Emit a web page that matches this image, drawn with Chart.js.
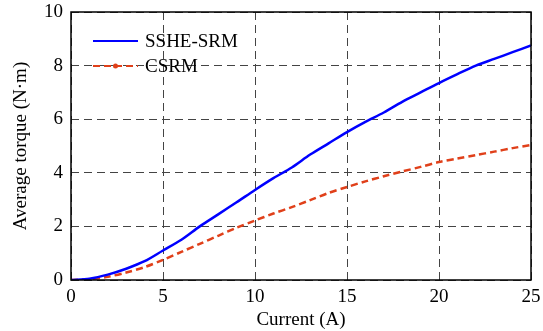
<!DOCTYPE html>
<html>
<head>
<meta charset="utf-8">
<script src="https://cdn.jsdelivr.net/npm/chart.js@4"></script>
<style>
  html, body { margin: 0; padding: 0; background: #fff; }
  #wrap { width: 543px; height: 331px; }
</style>
</head>
<body>
<div id="wrap"><canvas id="torqueChart" width="543" height="331"></canvas></div>
<script>
// Dados
const current = [0, 1, 2, 3, 4, 5, 6, 7, 8, 9, 10, 11, 12, 13, 14, 15, 16, 17, 18, 19, 20, 21, 22, 23, 24, 25];
const sshe = [0, 0.05, 0.2, 0.42, 0.7, 1.1, 1.5, 2.0, 2.45, 2.9, 3.36, 3.8, 4.2, 4.68, 5.1, 5.52, 5.9, 6.25, 6.65, 7.0, 7.35, 7.68, 8.0, 8.25, 8.5, 8.75];
const csrm = [0, 0.03, 0.12, 0.28, 0.48, 0.75, 1.05, 1.35, 1.65, 1.95, 2.22, 2.48, 2.72, 2.98, 3.25, 3.47, 3.68, 3.87, 4.05, 4.22, 4.4, 4.53, 4.66, 4.79, 4.92, 5.04];
const xTicks = [0, 5, 10, 15, 20, 25];
const yTicks = [0, 2, 4, 6, 8, 10];

const FONT = "'Liberation Serif', 'Times New Roman', serif";

// Caixa em volta da área do gráfico + legenda interna
const frameAndLegend = {
    id: 'frameAndLegend',
    afterDraw(chart) {
        const { ctx, chartArea: a } = chart;
        ctx.save();
        ctx.strokeStyle = '#000';
        ctx.lineWidth = 1.5;
        ctx.setLineDash([]);
        ctx.strokeRect(a.left, a.top, a.right - a.left, a.bottom - a.top);

        // legenda
        ctx.font = '19px ' + FONT;
        ctx.textBaseline = 'middle';
        ctx.fillStyle = '#000';
        const items = chart.data.datasets;
        const x0 = a.left + 22, x1 = a.left + 67;
        items.forEach((ds, i) => {
            const y = a.top + 29 + i * 25;
            ctx.strokeStyle = ds.borderColor;
            ctx.lineWidth = 2;
            ctx.setLineDash(ds.borderDash || []);
            ctx.beginPath();
            ctx.moveTo(x0, y);
            ctx.lineTo(x1, y);
            ctx.stroke();
            if (ds.borderDash) {
                ctx.fillStyle = ds.borderColor;
                ctx.beginPath();
                ctx.arc((x0 + x1) / 2, y, 2.5, 0, Math.PI * 2);
                ctx.fill();
            }
            ctx.fillStyle = '#000';
            ctx.fillText(ds.label, x1 + 7, y + 1);
        });
        ctx.restore();
    }
};

new Chart(document.getElementById('torqueChart'), {
    type: 'line',
    data: {
        datasets: [{
            label: 'SSHE-SRM',
            data: current.map((c, i) => ({ x: c, y: sshe[i] })),
            borderColor: '#0000ff',
            borderWidth: 2.5,
            pointRadius: 0,
            tension: 0.3
        }, {
            label: 'CSRM',
            data: current.map((c, i) => ({ x: c, y: csrm[i] })),
            borderColor: '#e0401a',
            borderWidth: 2.5,
            borderDash: [7, 4],
            pointRadius: 0,
            tension: 0.3
        }]
    },
    options: {
        responsive: false,
        animation: false,
        layout: { padding: { top: 12, right: 12, left: 0, bottom: 0 } },
        plugins: {
            legend: { display: false },
            tooltip: { enabled: false }
        },
        scales: {
            x: {
                type: 'linear',
                min: 0,
                max: 25,
                afterBuildTicks: axis => { axis.ticks = xTicks.map(v => ({ value: v })); },
                afterFit: axis => {
                    axis.height = 51;
                    axis.paddingLeft = 0;
                    axis.paddingRight = 0;
                },
                grid: {
                    color: '#444',
                    lineWidth: 1,
                    drawTicks: false
                },
                border: { display: false, dash: [8, 5] },
                ticks: {
                    color: '#000',
                    font: { family: FONT, size: 19 },
                    padding: 6,
                    maxRotation: 0
                },
                title: {
                    display: true,
                    text: 'Current (A)',
                    color: '#000',
                    font: { family: FONT, size: 19 },
                    padding: { top: 4, bottom: 0 }
                }
            },
            y: {
                min: 0,
                max: 10,
                afterBuildTicks: axis => { axis.ticks = yTicks.map(v => ({ value: v })); },
                afterFit: axis => {
                    axis.width = 71;
                    axis.paddingTop = 0;
                    axis.paddingBottom = 0;
                },
                grid: {
                    color: '#444',
                    lineWidth: 1,
                    drawTicks: false
                },
                border: { display: false, dash: [8, 5] },
                ticks: {
                    color: '#000',
                    font: { family: FONT, size: 19 },
                    padding: 8
                },
                title: {
                    display: true,
                    text: 'Average torque (N·m)',
                    color: '#000',
                    font: { family: FONT, size: 19 },
                    padding: { top: 10, bottom: 0 }
                }
            }
        }
    },
    plugins: [frameAndLegend]
});
</script>
</body>
</html>
